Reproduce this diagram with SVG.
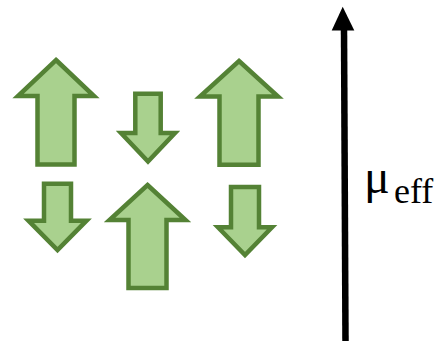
<svg xmlns="http://www.w3.org/2000/svg" width="448" height="341" viewBox="0 0 448 341">
  <style>
    .spin { fill: #a9d18e; stroke: #548235; stroke-width: 4.5; stroke-linejoin: miter; stroke-miterlimit: 10; }
    .serif { font-family: "Liberation Serif", serif; fill: #000; }
  </style>
  <rect width="448" height="341" fill="#fff"/>

  <!-- spin arrows -->
  <g id="spin-up-1"><polygon class="spin" points="56,60 94,96 74.5,96 74.5,164.5 37.5,164.5 37.5,96 18,96"/></g>
  <g id="spin-down-1"><polygon class="spin" points="135.3,93.7 160.7,93.7 160.7,133 175,133 148,161.5 121,133 135.3,133"/></g>
  <g id="spin-up-2"><polygon class="spin" points="239,61 278,96.5 258.5,96.5 258.5,164.7 219.5,164.7 219.5,96.5 200,96.5"/></g>
  <g id="spin-down-2"><polygon class="spin" points="44,183.7 71,183.7 71,220.7 86.5,220.7 57.5,250 28.5,220.7 44,220.7"/></g>
  <g id="spin-up-3"><polygon class="spin" points="147.5,185 185.5,220 166.5,220 166.5,288 128.5,288 128.5,220 109.5,220"/></g>
  <g id="spin-down-3"><polygon class="spin" points="231,187 259,187 259,227.3 272,227.3 245,255 218,227.3 231,227.3"/></g>

  <!-- effective moment -->
  <g id="connectors">
    <line x1="345.5" y1="341" x2="344" y2="28" stroke="#000" stroke-width="6.5"/>
    <polygon points="342.7,6.7 354.3,30.5 331.7,30.5" fill="#000"/>
  </g>
  <g id="mu-eff-label">
    <text class="serif" x="364" y="193" font-size="48">μ</text>
    <text class="serif" x="394" y="203" font-size="36">eff</text>
  </g>
</svg>
